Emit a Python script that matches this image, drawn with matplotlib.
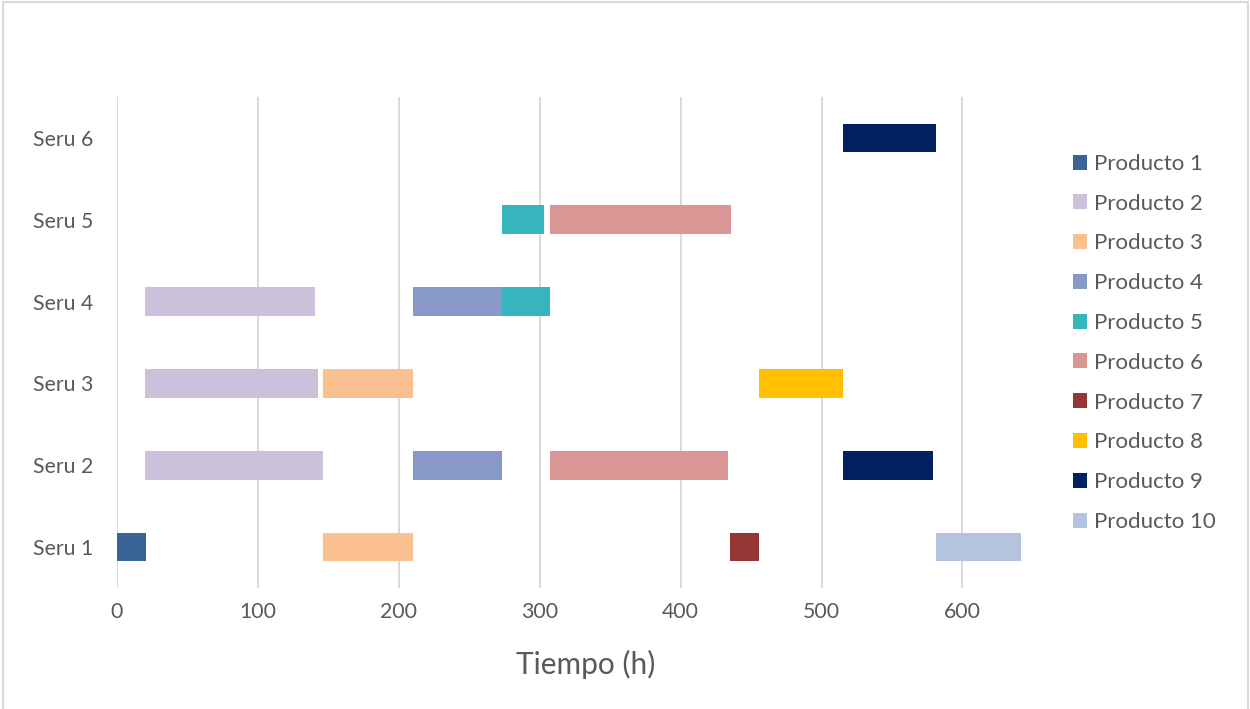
import matplotlib
matplotlib.use("Agg")
import matplotlib.pyplot as plt
from matplotlib.patches import Rectangle

plt.rcParams["font.family"] = ["Lato", "DejaVu Sans"]

# machines (rows) and products (series)
serus = ["Seru 1", "Seru 2", "Seru 3", "Seru 4", "Seru 5", "Seru 6"]
productos = ["Producto 1", "Producto 2", "Producto 3", "Producto 4", "Producto 5",
             "Producto 6", "Producto 7", "Producto 8", "Producto 9", "Producto 10"]
colores = ["#3B6496", "#CCC1DA", "#FAC090", "#8899C9", "#37B5BE",
           "#DA9694", "#963634", "#FFC000", "#002060", "#B4C4DE"]

# for every product: seru index, start time and end time of each job
p_seru = [[0], [1, 2, 3], [0, 2], [1, 3], [3, 4], [1, 4], [0], [2], [1, 5], [0]]
p_inicio = [[0], [20, 20, 20], [146, 146], [210, 210], [273, 273], [307, 307],
            [435], [455.6], [515.4, 515.4], [581.3]]
p_fin = [[20.6], [146, 143, 140.5], [210, 210], [273.2, 273.2], [307, 303],
         [433.7, 435.5], [455.6], [515.4], [579, 581.5], [641.6]]

texto = "#595959"
rejilla = "#D9D9D9"

fig = plt.figure(figsize=(12.5, 7.09), dpi=100)
ax = fig.add_axes([0.0936, 0.1707, 0.7496, 0.6925])

for i, nombre in enumerate(productos):
    anchos = [f - s for s, f in zip(p_inicio[i], p_fin[i])]
    ax.barh(p_seru[i], anchos, left=p_inicio[i], height=0.35,
            color=colores[i], label=nombre, zorder=3)

ax.set_xlim(0, 665)
ax.set_ylim(-0.5, len(serus) - 0.5)
ax.set_xticks(range(0, 700, 100))
ax.set_yticks(range(len(serus)))
ax.set_yticklabels(serus)
ax.tick_params(axis="both", length=0, labelsize=15.3, labelcolor=texto)
ax.tick_params(axis="y", pad=17)
ax.tick_params(axis="x", pad=10)
ax.grid(axis="x", color=rejilla, linewidth=1.4, zorder=0)
ax.grid(axis="y", visible=False)
for lado in ax.spines.values():
    lado.set_visible(False)

ax.set_xlabel("Tiempo (h)", fontsize=21.5, color=texto, labelpad=20)

fig.legend(loc="upper left", bbox_to_anchor=(0.858, 0.783), frameon=False,
           fontsize=16, labelcolor=texto, handlelength=0.66, handleheight=0.66,
           handletextpad=0.32, labelspacing=0.89, borderpad=0, borderaxespad=0)

# thin frame around the whole chart
fig.patches.append(Rectangle((0.002, -0.01), 0.996, 1.007, transform=fig.transFigure,
                             fill=False, edgecolor=rejilla, linewidth=1.5))

fig.savefig("out.png", dpi=100, facecolor="white")
